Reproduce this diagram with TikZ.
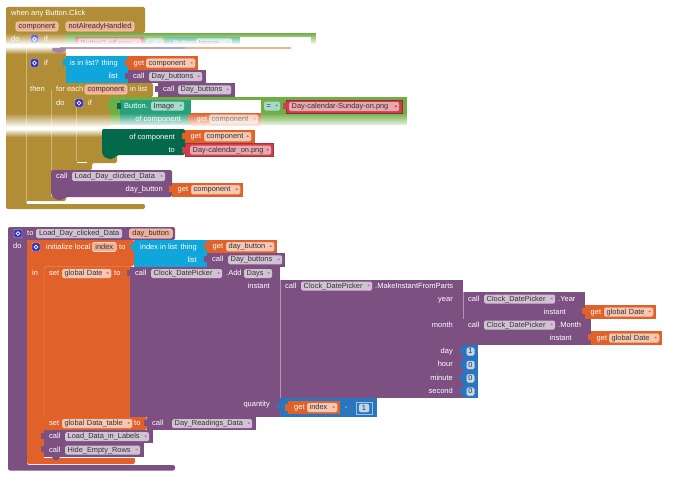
\documentclass[tikz,border=0pt]{standalone}
\usepackage{fontspec}
\setmainfont{Liberation Sans}
\usetikzlibrary{fadings}
\definecolor{ctrlgold}{HTML}{B18E35}
\definecolor{procpurple}{HTML}{7D5082}
\definecolor{varorange}{HTML}{E0622A}
\definecolor{listcyan}{HTML}{10A5DB}
\definecolor{logicgreen}{HTML}{6FAE45}
\definecolor{compteal}{HTML}{27A07C}
\definecolor{setgreen}{HTML}{03694A}
\definecolor{textred}{HTML}{CF3E4B}
\definecolor{mathblue}{HTML}{2A75BE}
\definecolor{gearblue}{HTML}{3431C4}
\tikzfading[name=bandin, top color=transparent!100, bottom color=transparent!0]
\tikzfading[name=bandout, top color=transparent!0, bottom color=transparent!100]
\tikzstyle{lbl} = [text=white, inner sep=0pt, font=\fontsize{7.5}{9}\selectfont, text height=5.7, text depth=1.6]
\tikzstyle{chip} = [rectangle, rounded corners=1.5, inner xsep=2.5, inner ysep=0, minimum height=9, align=left, text=black!80, font=\fontsize{7.4}{9}\selectfont, text height=5.7, text depth=1.6]
\tikzstyle{chipproc} = [chip, fill=procpurple!35!white]
\tikzstyle{chipvar} = [chip, fill=varorange!35!white, draw=varorange!55!white, line width=0.4]
\tikzstyle{chiptxt} = [chip, fill=textred!45!white]
\tikzstyle{chipteal} = [chip, fill=compteal!40!white]
\tikzstyle{chipname} = [chip, align=center, inner xsep=0, fill=varorange!50!white, draw=varorange!25!white, line width=0.6]
\tikzstyle{chipnum} = [chip, align=center, inner xsep=0, minimum height=8, fill=mathblue!30!white, draw=white!70!mathblue, line width=0.4]
\tikzstyle{gearbox} = [rectangle, rounded corners=1, minimum size=8, inner sep=0, fill=gearblue, draw=white!70!gearblue, line width=0.4,
  path picture={\draw[white, line width=0.8] (path picture bounding box.center) circle (1.9);}]
% chip that reaches from x=#3 to x=#4 on the row y=#5, with a drop-down mark
\newcommand{\ddchip}[6]{
  \node (#2) [#1, anchor=west, text width={#4-#3-5}, path picture={\fill[#1tri] ([xshift=-5.5]path picture bounding box.east) ++(0,-1.3) -- ++(4,0) -- ++(-2,2.6) -- cycle;}] at (#3,#5) {\mbox{#6}};
}
\colorlet{chipproctri}{procpurple!75!white}
\colorlet{chipvartri}{varorange}
\colorlet{chiptxttri}{textred}
\colorlet{chiptealtri}{compteal}
% puzzle tab on the left edge of a value block
\newcommand{\tabat}[3]{\fill[#1] (#2-3.5,#3+2.5) rectangle (#2+0.5,#3+9);}
% get block: x=#2 to x=#3, top y=#4, with its chip from x=#5 to x=#6
\newcommand{\getblock}[7]{
  \fill[varorange] (#2,#4) rectangle (#3,#4+13.5);
  \tabat{varorange}{#2}{#4}
  \node (#1get) [lbl, anchor=west] at (#2+5.5,#4+6.7) {get};
  \ddchip{chipvar}{#1}{#5}{#6}{#4+6.7}{#7}
}
% procedure call block on one row
\newcommand{\callblock}[7]{
  \fill[procpurple] (#2,#4) rectangle (#3,#4+13.4);
  \tabat{procpurple}{#2}{#4}
  \node (#1call) [lbl, anchor=west] at (#2+5,#4+6.7) {call};
  \ddchip{chipproc}{#1}{#5}{#6}{#4+6.7}{#7}
}
\begin{document}
\begin{tikzpicture}[x=1pt, y=-1pt]
\useasboundingbox (0,0) rectangle (690,487);

% click handler, body shape first
\fill[ctrlgold, rounded corners=2] (6,7) -- (145,7) -- (145,33) -- (66,33) -- (66,83) -- (153,83) -- (153,97) -- (110,97) -- (110,128) -- (102,128) -- (102,155) -- (117,155) -- (117,163) -- (92,163) -- (92,170) -- (51,170) -- (51,197) -- (66,197) -- (66,201) -- (26,201) -- (26,204) -- (145,204) -- (145,209) -- (6,209) -- cycle;
\draw[white!35!ctrlgold, line width=0.4] (26,50) -- (26,201);
\draw[white!35!ctrlgold, line width=0.4] (51,90) -- (51,170);
\draw[white!35!ctrlgold, line width=0.4] (76,100) -- (76,161);
\fill[white] (27,201.3) rectangle (38,203.5);
\fill[white] (77,161.5) rectangle (87,163);
\node (whenlbl) [lbl, anchor=west] at (11,13.5) {when any Button.Click};
\node (argcomp) [chipname, anchor=center, minimum width=42] at (37,26.5) {component};
\node (arghandled) [chipname, anchor=center, minimum width=68] at (100,26.5) {notAlreadyHandled};

% first test, mostly washed out further down
\node (dolbl) [lbl, anchor=west] at (11,39) {do};
\node (gearone) [gearbox] at (34.5,39) {};
\node (iflblone) [lbl, anchor=west] at (44,39) {if};
\fill[logicgreen] (66,33) rectangle (316,48);
\fill[textred] (75,37) rectangle (144,49);
\ddchip{chiptxt}{strbtn}{78}{141}{43}{Button1-off.png}
\ddchip{chipteal}{eqone}{146}{163}{43}{=}
\fill[compteal] (165,37) rectangle (240,49);
\node (btnlbl) [lbl, anchor=west] at (173,43) {Button.};
\ddchip{chipteal}{imgone}{196}{232}{43}{Image}
\fill[white] (240,37) rectangle (311,46);
\fill[white, path fading=bandin] (6,33) rectangle (320,44.5);
\fill[white] (6,44.5) rectangle (320,46.5);
\fill[white, path fading=bandout] (6,46.5) rectangle (66,54);
\fill[white] (66,46.5) rectangle (320,54);
\fill[procpurple!55!white] (60,47) rectangle (185,49);
\fill[varorange!50!white] (185,47) rectangle (291,49);
\fill[procpurple!70!white, rounded corners=1] (52,48) -- (52,51) -- (57,53) -- (62,53) -- (66,50) -- (66,48) -- cycle;

% list test
\node (geartwo) [gearbox] at (34.5,63) {};
\node (iflbltwo) [lbl, anchor=west] at (44,63) {if};
\fill[listcyan] (66,56.5) rectangle (128,83);
\tabat{listcyan}{66}{57}
\node (inlistlbl) [lbl, anchor=east] at (118,63) {is in list? thing};
\node (listlbl) [lbl, anchor=east] at (118,76.5) {list};
\getblock{getcomp}{128}{198}{56.5}{146}{195}{component}
\callblock{callbtn}{128}{206}{70}{149}{202}{Day\_buttons}

% for each loop
\node (thenlbl) [lbl, anchor=west] at (30,89.5) {then};
\node (foreachlbl) [lbl, anchor=west] at (56,89.5) {for each};
\node (loopvar) [chipname, anchor=center, minimum width=42] at (106,89.5) {component};
\node (inlistloop) [lbl, anchor=west] at (130,89.5) {in list};
\callblock{callloop}{158}{235}{83.2}{178}{231}{Day\_buttons}
\node (doloop) [lbl, anchor=west] at (56,103) {do};
\node (gearthree) [gearbox] at (79,103) {};
\node (iflblthree) [lbl, anchor=west] at (88,103) {if};

% comparison inside the loop
\fill[logicgreen] (110,97) rectangle (407,125);
\tabat{logicgreen}{110}{99}
\fill[compteal] (120,100) rectangle (191,125);
\tabat{setgreen}{120}{100}
\node (btnlbltwo) [lbl, anchor=west] at (124,106) {Button.};
\ddchip{chipteal}{imgtwo}{151}{184}{106}{Image}
\fill[white] (191,100) rectangle (261,113);
\node (ofcompone) [lbl, anchor=east] at (181,119) {of component};
\getblock{getcompb}{191}{261}{112.5}{209}{258}{component}
\ddchip{chipteal}{eqtwo}{264}{280}{106}{=}
\fill[textred!70!black] (286,100) rectangle (403,113.5);
\tabat{textred}{286}{100}
\fill[textred] (287,101) rectangle (402,112.5);
\ddchip{chiptxt}{strsunday}{289}{399}{106.7}{Day-calendar-Sunday-on.png}
\fill[white, path fading=bandin] (6,113) rectangle (410,127);
\fill[white] (6,127) rectangle (410,129);

% setter for the image
\fill[setgreen, rounded corners=2] (102,129) -- (185,129) -- (185,155) -- (117,155) -- (113,159) -- (108,159) -- (102,155) -- cycle;
\node (ofcomptwo) [lbl, anchor=east] at (175,137) {of component};
\node (tolblone) [lbl, anchor=east] at (175,150) {to};
\getblock{getcompc}{185}{255}{130}{204}{251}{component}
\fill[textred!80!black] (185,143.3) rectangle (274,157);
\tabat{textred}{185}{144}
\fill[textred] (186,144.3) rectangle (273,156);
\ddchip{chiptxt}{stron}{190}{271}{150.2}{Day-calendar\_on.png}
\fill[white, path fading=bandout] (6,129) rectangle (102,137);

% call at the end of the handler
\fill[procpurple, rounded corners=2] (51,170) -- (172,170) -- (172,197) -- (66,197) -- (62,200) -- (56,200) -- (51,195) -- cycle;
\node (calldaylbl) [lbl, anchor=west] at (56,176.5) {call};
\ddchip{chipproc}{callday}{72}{165}{176.5}{Load\_Day\_clicked\_Data}
\node (daybtnlbl) [lbl, anchor=east] at (163,189.5) {day\_button};
\getblock{getcompd}{172}{243}{183}{191}{240}{component}

% procedure definition
\fill[procpurple, rounded corners=2] (8,227) -- (175,227) -- (175,240) -- (27,240) -- (27,465) -- (175,465) -- (175,470.5) -- (8,470.5) -- cycle;
\node (gearproc) [gearbox] at (18,233.5) {};
\node (tolbl) [lbl, anchor=west] at (27,233.5) {to};
\node (procname) [chipproc, minimum width=86, anchor=west] at (36,233.5) {Load\_Day\_clicked\_Data};
\node (procarg) [chipname, minimum width=43, anchor=west] at (129,233.5) {day\_button};
\node (doproc) [lbl, anchor=west] at (13,246.5) {do};

% local variable block
\fill[varorange, rounded corners=2] (27,240) -- (134,240) -- (134,266) -- (130,266) -- (130,417) -- (147,417) -- (147,430) -- (44,430) -- (44,457.5) -- (135,457.5) -- (135,464) -- (27,464) -- cycle;
\draw[white!40!varorange, line width=0.4, rounded corners=2] (130,266.5) -- (44,266.5) -- (44,417);
\draw[white, line width=0.7] (44,430) -- (44,457.5) -- (135,457.5);
\node (gearlocal) [gearbox] at (36,247) {};
\node (initlbl) [lbl, anchor=west] at (46,247) {initialize local};
\node (localvar) [chipname, minimum width=24, anchor=west] at (92,247) {index};
\node (tolocal) [lbl, anchor=west] at (119,247) {to};
\node (inlbl) [lbl, anchor=west] at (32,273) {in};
\fill[listcyan] (134,240) rectangle (207,266.5);
\tabat{listcyan}{134}{241}
\node (indexlbl) [lbl, anchor=west] at (140,247) {index in list};
\node (thinglbl) [lbl, anchor=east] at (197,247) {thing};
\node (listlbltwo) [lbl, anchor=east] at (197,260) {list};
\getblock{getbutton}{207}{277}{240}{226}{274}{day\_button}
\callblock{calllist}{207}{285}{253.2}{228}{282}{Day\_buttons}

% setter for the date
\node (setdatelbl) [lbl, anchor=west] at (49,273.5) {set};
\ddchip{chipvar}{globdate}{62}{111}{273.5}{global Date}
\node (todate) [lbl, anchor=west] at (114,273.5) {to};
\fill[procpurple] (130,266.5) rectangle (280,417);
\tabat{procpurple}{130}{267}
\node (calladdlbl) [lbl, anchor=west] at (135,273.5) {call};
\ddchip{chipproc}{pickadd}{151}{222}{273.5}{Clock\_DatePicker}
\node (addlbl) [lbl, anchor=west] at (226,273.5) {.Add};
\ddchip{chipproc}{daysadd}{244}{272}{273.5}{Days}
\node (instlbl) [lbl, anchor=east] at (270,286.5) {instant};
\node (qtylbl) [lbl, anchor=east] at (270,404.5) {quantity};

% instant built from its parts
\fill[procpurple] (280,279.5) rectangle (463,398);
\draw[white!40!procpurple, line width=0.4] (280,279.5) -- (280,398);
\node (callmakelbl) [lbl, anchor=west] at (285,286) {call};
\ddchip{chipproc}{pickmake}{301}{372}{286}{Clock\_DatePicker}
\node (makelbl) [lbl, anchor=west] at (375,286) {.MakeInstantFromParts};
\node (yearlbl) [lbl, anchor=east] at (453,299) {year};
\node (monthlbl) [lbl, anchor=east] at (453,325) {month};
\node (daylbl) [lbl, anchor=east] at (453,351.5) {day};
\node (hourlbl) [lbl, anchor=east] at (453,364.5) {hour};
\node (minlbl) [lbl, anchor=east] at (453,378) {minute};
\node (seclbl) [lbl, anchor=east] at (453,391) {second};

% year and month calls
\fill[procpurple] (463,292) rectangle (585,319);
\draw[white!40!procpurple, line width=0.4] (463,292) -- (463,344.5);
\node (callyearlbl) [lbl, anchor=west] at (468,299) {call};
\ddchip{chipproc}{pickyear}{484}{555}{299}{Clock\_DatePicker}
\node (yeardot) [lbl, anchor=west] at (558,299) {.Year};
\node (instyear) [lbl, anchor=east] at (566,312) {instant};
\getblock{getyear}{585}{656}{305.3}{604}{653}{global Date}
\fill[procpurple] (463,319) rectangle (591,344.5);
\node (callmonthlbl) [lbl, anchor=west] at (468,325) {call};
\ddchip{chipproc}{pickmonth}{484}{555}{325}{Clock\_DatePicker}
\node (monthdot) [lbl, anchor=west] at (558,325) {.Month};
\node (instmonth) [lbl, anchor=east] at (572,338) {instant};
\getblock{getmonth}{591}{662}{331.3}{609}{659}{global Date}

% number blocks, one per row
\foreach \numname/\numy/\numtxt in {numday/345/1, numhour/358.3/0, numminute/371.7/0, numsecond/385/0} {
  \fill[mathblue] (463,\numy) rectangle (478,\numy+13.3);
  \tabat{mathblue}{463}{\numy}
  \node (\numname) [chipnum, minimum width=7.5] at (470.5,\numy+6.7) {\numtxt};
}

% quantity expression
\fill[mathblue] (280,398) rectangle (377,417);
\tabat{mathblue}{280}{400}
\fill[varorange] (288,401) rectangle (340,414);
\tabat{varorange}{288}{401.5}
\node (getindexlbl) [lbl, anchor=west] at (294,407.5) {get};
\ddchip{chipvar}{getindex}{307}{337}{407.5}{index}
\node (minuslbl) [lbl, anchor=center] at (346,407.5) {-};
\draw[white!55!mathblue, line width=0.4] (356,402) rectangle (372,414);
\node (numone) [chipnum, minimum width=10] at (364,408) {1};

% rest of the body
\node (setdatalbl) [lbl, anchor=west] at (49,423.5) {set};
\ddchip{chipvar}{globdata}{62}{132}{423.5}{global Data\_table}
\node (todata) [lbl, anchor=west] at (134,423.5) {to};
\callblock{callread}{147}{256}{417}{172}{252}{Day\_Readings\_Data}
\callblock{callload}{44}{153}{430}{65}{149}{Load\_Data\_in\_Labels}
\callblock{callhide}{44}{144}{443.4}{65}{140}{Hide\_Empty\_Rows}
\fill[procpurple] (52,456.8) -- (60,456.8) -- (58,460) -- (54,460) -- cycle;
\end{tikzpicture}
\end{document}
